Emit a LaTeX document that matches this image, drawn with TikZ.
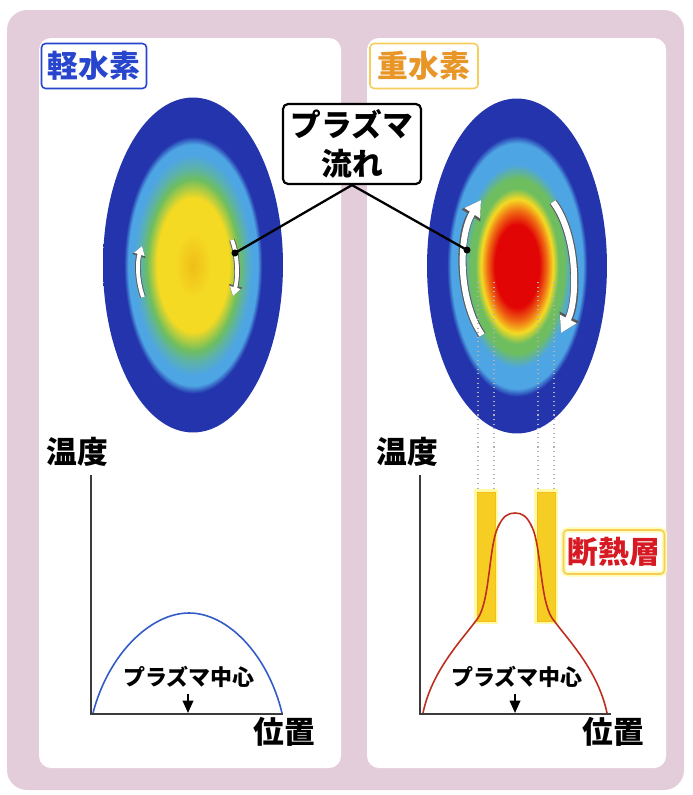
\documentclass[tikz,border=0pt]{standalone}
\usepackage{fontspec}
\newfontfamily\jpfont{Noto Sans CJK JP}
\usetikzlibrary{arrows.meta,shapes.geometric}

\definecolor{bgpink}{RGB}{228,205,218}
\definecolor{hblue}{RGB}{40,70,205}
\definecolor{dorange}{RGB}{232,150,40}
\definecolor{dframe}{RGB}{246,205,90}
\definecolor{barfill}{RGB}{245,205,35}
\definecolor{wallred}{RGB}{215,25,35}
\definecolor{hcurve}{RGB}{50,90,200}
\definecolor{dcurve}{RGB}{190,45,30}
\definecolor{axisgray}{RGB}{60,60,60}
% plasma colour bands
\definecolor{pdblue}{RGB}{35,52,172}
\definecolor{plblue}{RGB}{78,165,228}
\definecolor{pcyan}{RGB}{92,178,170}
\definecolor{pgreen}{RGB}{110,190,95}
\definecolor{pyellow}{RGB}{245,218,35}
\definecolor{porange}{RGB}{240,190,25}
\definecolor{pred}{RGB}{225,5,5}
\definecolor{pred2}{RGB}{240,110,20}

\pgfdeclareradialshading{hplasma}{\pgfpoint{0bp}{0bp}}{%
  color(0bp)=(porange); color(5bp)=(pyellow); color(10bp)=(pyellow);
  color(12.8bp)=(pgreen); color(14.5bp)=(pcyan); color(16.5bp)=(plblue);
  color(18bp)=(plblue); color(19.2bp)=(pdblue); color(25bp)=(pdblue); color(50bp)=(pdblue)}
\pgfdeclareradialshading{dplasma}{\pgfpoint{0bp}{0bp}}{%
  color(0bp)=(pred); color(6.2bp)=(pred); color(8.3bp)=(pred2); color(10bp)=(pyellow);
  color(11.6bp)=(pgreen); color(13bp)=(pgreen); color(15.2bp)=(plblue);
  color(18.3bp)=(plblue); color(19.5bp)=(pdblue); color(25bp)=(pdblue); color(50bp)=(pdblue)}

\begin{document}
\begin{tikzpicture}[x=0.02cm, y=-0.02cm,
    big/.style={font=\jpfont\bfseries\fontsize{17.5}{22}\selectfont},
    small/.style={font=\jpfont\bfseries\fontsize{12.5}{15}\selectfont},
    tag/.style={big, draw, rounded corners=0.08cm, line width=0.9pt, inner sep=0pt,
      minimum width=2.1cm, minimum height=0.9cm},
    plasma/.style={ellipse, inner sep=0pt, minimum width=3.6cm, minimum height=6.7cm},
    flowarrow/.style={draw=white, line width=#1},
    axisline/.style={axisgray, line width=0.9pt},
    center/.style={line width=1pt, -{Triangle[width=6pt,length=7pt]}},
    bar/.style={fill=barfill, draw=barfill!80!orange, line width=0.5pt,
      preaction={draw=yellow!35, line width=3pt}}]
  \useasboundingbox (0,0) rectangle (693,795);
  % frame and panels
  \fill[bgpink, rounded corners=0.4cm] (7,10) rectangle (684,790);
  \fill[white, rounded corners=0.24cm] (39,38) rectangle (341,768);
  \fill[white, rounded corners=0.24cm] (367,38) rectangle (666,768);

  \node[tag, draw=hblue, text=hblue] (hname) at (94,66) {軽水素};
  \node[tag, draw=dframe, text=dorange, minimum width=2.16cm] (dname) at (424,66) {重水素};

  % plasma cross sections
  \node[plasma, shading=hplasma] (hcore) at (193,265) {};
  \node[plasma, shading=dplasma] (dcore) at (517,266) {};

  % flow arrows
  \draw[flowarrow=2.2pt, -{Triangle[width=6pt,length=5pt]},
    preaction={draw=black!65, line width=3.2pt, -{Triangle[width=7.5pt,length=6pt]}}]
    (143,297) .. controls (137,280) and (137,262) .. (142,246);
  \draw[flowarrow=2.2pt, -{Triangle[width=6pt,length=5pt]},
    preaction={draw=black!65, line width=3.2pt, -{Triangle[width=7.5pt,length=6pt]}}]
    (232,240) .. controls (238,256) and (238,278) .. (233,296);
  \draw[flowarrow=3.4pt, -{Triangle[width=10pt,length=9pt]},
    preaction={draw=black!65, line width=4.6pt, -{Triangle[width=12pt,length=10.5pt]}}]
    (482,335) .. controls (458,300) and (458,235) .. (481,200);
  \draw[flowarrow=3.4pt, -{Triangle[width=10pt,length=9pt]},
    preaction={draw=black!65, line width=4.6pt, -{Triangle[width=12pt,length=10.5pt]}}]
    (553,202) .. controls (578,235) and (578,300) .. (561,333);

  % callout
  \node[big, draw, fill=white, line width=1.2pt, rounded corners=0.1cm, align=center,
    inner sep=0pt, minimum width=2.76cm, minimum height=1.6cm] (flowtag) at (352,144) {プラズマ\\流れ};
  \coordinate (hflow) at (235,253);
  \coordinate (dflow) at (467,250);
  \draw[line width=1.3pt] (hflow) -- (flowtag.south) -- (dflow);
  \fill (hflow) circle (2pt);
  \fill (dflow) circle (2pt);

  % projection onto the insulating layer
  \foreach \x in {478,494,538,554}
    \draw[gray!60, dotted, line width=0.6pt] (\x,282) -- (\x,492);
  \filldraw[bar] (477,492) rectangle (495,621);
  \filldraw[bar] (537,492) rectangle (555,621);
  \node[tag, draw=dframe, text=wallred, minimum width=2.02cm, minimum height=0.88cm,
    preaction={draw=yellow!30, line width=3pt}] (wall) at (614,552) {断熱層};

  % light hydrogen profile
  \coordinate (hO) at (91,714);
  \draw[axisline] (91,475) -- (hO) -- (283,714);
  \draw[hcurve, line width=0.9pt] (93,713) .. controls (108,655) and (150,613) .. (189,613)
    .. controls (228,613) and (268,655) .. (282,713);
  \node[big] (htemp) at (77,452) {温度};
  \node[big] (hpos) at (284,732) {位置};
  \node[small] (hmid) at (189,677) {プラズマ中心};
  \draw[center] (hmid.south -| 188,0) -- (188,713);

  % deuterium profile
  \coordinate (dO) at (420,714);
  \draw[axisline] (420,475) -- (dO) -- (611,714);
  \draw[dcurve, line width=0.9pt] (423,713) .. controls (432,670) and (462,640) .. (478,618)
    .. controls (490,600) and (489,545) .. (498,527)
    .. controls (503,516) and (508,513) .. (515,513)
    .. controls (522,513) and (527,516) .. (532,527)
    .. controls (541,545) and (540,600) .. (552,618)
    .. controls (568,640) and (598,670) .. (607,713);
  \node[big] (dtemp) at (407,452) {温度};
  \node[big] (dpos) at (613,732) {位置};
  \node[small] (dmid) at (517,677) {プラズマ中心};
  \draw[center] (dmid.south -| 515,0) -- (515,713);
\end{tikzpicture}
\end{document}
